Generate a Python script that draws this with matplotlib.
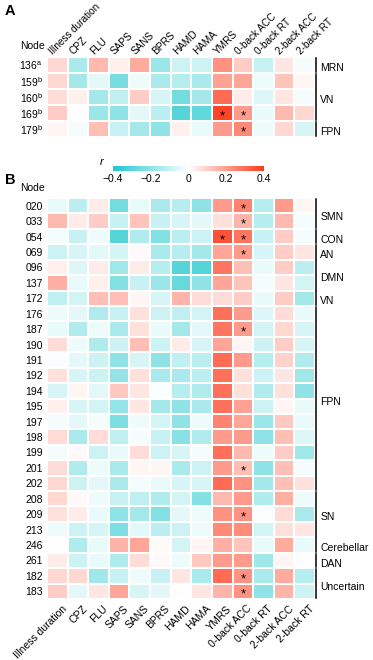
import numpy as np
import matplotlib
matplotlib.use('Agg')
import matplotlib.pyplot as plt
from matplotlib.colors import LinearSegmentedColormap

# data --------------------------------------------------------------

columns = ['Illness duration', 'CPZ', 'FLU', 'SAPS', 'SANS', 'BPRS', 'HAMD',
           'HAMA', 'YMRS', '0-back ACC', '0-back RT', '2-back ACC', '2-back RT']

nodes_a = ['136', '159', '160', '169', '179']
sup_a = ['a', 'b', 'b', 'b', 'b']
r_a = [
    [0.08, -0.15, 0.14, 0.03, 0.17, -0.18, -0.09, -0.09, 0.22, 0.10, -0.10, 0.05, -0.02],
    [0.08, -0.16, -0.05, -0.24, -0.03, -0.15, -0.13, -0.15, 0.19, 0.18, -0.03, 0.12, 0.02],
    [0.07, 0.03, -0.16, -0.11, 0.10, -0.07, -0.25, -0.16, 0.30, 0.04, -0.06, 0.05, -0.02],
    [0.10, 0.00, -0.18, -0.20, -0.05, -0.12, -0.30, -0.28, 0.38, 0.20, -0.04, 0.14, 0.08],
    [0.02, -0.02, 0.13, -0.10, -0.16, -0.20, 0.03, -0.04, 0.20, 0.24, -0.03, 0.08, -0.07],
]
stars_a = [(3, 8), (3, 9), (4, 9)]
groups_a = [('MRN', 0, 0), ('VN', 1, 3), ('FPN', 4, 4)]

nodes_b = ['020', '033', '054', '069', '096', '137', '172', '176', '187', '190',
           '191', '192', '194', '195', '197', '198', '199', '201', '202', '208',
           '209', '213', '246', '261', '182', '183']
r_b = [
    [-0.04, -0.12, 0.04, -0.25, -0.04, -0.15, -0.13, -0.20, 0.20, 0.25, -0.13, 0.20, 0.02],
    [0.14, 0.04, 0.10, -0.10, 0.12, -0.10, -0.07, -0.05, 0.06, 0.15, -0.13, 0.14, -0.02],
    [-0.02, -0.10, -0.03, -0.30, -0.14, -0.22, -0.12, -0.09, 0.35, 0.28, -0.10, 0.10, -0.02],
    [-0.09, -0.07, -0.05, -0.08, 0.01, -0.15, -0.13, -0.16, 0.18, 0.20, -0.07, 0.10, 0.05],
    [0.03, -0.06, 0.04, -0.17, 0.04, -0.13, -0.30, -0.30, 0.28, 0.13, -0.04, 0.10, -0.12],
    [0.16, -0.04, 0.03, -0.22, -0.10, -0.18, -0.27, -0.20, 0.18, 0.12, -0.02, 0.05, -0.08],
    [-0.11, -0.08, 0.13, 0.13, 0.02, -0.07, 0.15, 0.07, 0.07, 0.10, -0.04, 0.10, -0.16],
    [-0.03, -0.05, -0.14, -0.10, 0.06, -0.09, -0.11, -0.08, 0.29, 0.20, -0.06, 0.07, -0.04],
    [-0.04, -0.14, -0.03, -0.15, 0.06, -0.04, -0.16, -0.05, 0.28, 0.20, -0.08, 0.08, -0.07],
    [0.07, -0.03, -0.14, -0.09, 0.13, -0.09, 0.04, -0.07, 0.18, 0.02, -0.09, 0.10, -0.07],
    [-0.01, -0.05, -0.09, -0.20, -0.07, -0.20, -0.11, -0.12, 0.30, 0.20, -0.13, 0.09, -0.14],
    [0.06, -0.07, -0.09, -0.19, 0.06, -0.15, -0.15, -0.12, 0.29, 0.06, -0.09, 0.05, -0.17],
    [-0.07, 0.02, -0.05, 0.11, 0.05, -0.01, -0.13, -0.14, 0.29, 0.06, -0.14, 0.06, -0.20],
    [0.03, -0.07, -0.08, -0.19, 0.05, -0.16, -0.20, -0.15, 0.29, 0.19, -0.09, 0.02, -0.04],
    [-0.02, -0.05, -0.02, -0.23, -0.03, -0.08, -0.20, -0.03, 0.25, 0.18, -0.18, 0.11, -0.04],
    [0.07, -0.15, 0.07, -0.11, -0.02, -0.10, -0.21, -0.14, 0.20, 0.20, -0.20, 0.13, -0.06],
    [-0.02, 0.01, -0.09, -0.04, 0.07, -0.09, -0.07, -0.02, 0.29, 0.14, -0.03, 0.10, -0.17],
    [0.07, -0.14, -0.03, -0.15, 0.02, 0.02, -0.15, -0.09, 0.20, 0.13, -0.20, 0.13, -0.02],
    [0.08, -0.09, -0.05, -0.15, -0.02, -0.04, -0.07, -0.07, 0.30, 0.22, -0.16, 0.13, 0.06],
    [0.08, 0.01, -0.03, -0.10, -0.11, -0.14, -0.08, -0.22, 0.14, 0.20, -0.14, 0.16, -0.03],
    [0.06, 0.04, -0.04, -0.20, -0.16, -0.22, -0.05, -0.03, 0.22, 0.22, -0.01, 0.07, -0.15],
    [-0.03, -0.09, -0.07, -0.23, -0.05, -0.12, -0.09, -0.03, 0.24, 0.23, -0.08, 0.06, 0.05],
    [0.00, -0.14, -0.04, 0.15, 0.18, 0.01, -0.08, 0.02, 0.16, 0.12, -0.04, 0.17, -0.04],
    [0.04, -0.09, -0.04, -0.14, 0.07, 0.01, -0.03, 0.11, 0.20, 0.20, -0.17, 0.02, 0.00],
    [0.08, 0.08, -0.17, -0.10, -0.03, -0.10, 0.05, -0.15, 0.30, 0.22, -0.15, 0.17, -0.13],
    [0.10, -0.05, 0.05, 0.18, -0.07, -0.05, 0.00, 0.05, 0.15, 0.22, -0.20, 0.15, -0.09],
]
stars_b = [(0, 9), (1, 9), (2, 8), (2, 9), (3, 9), (8, 9), (17, 9), (20, 9), (24, 9), (25, 9)]
groups_b = [('SMN', 0, 1), ('CON', 2, 2), ('AN', 3, 3), ('DMN', 4, 5), ('VN', 6, 6),
            ('FPN', 7, 18), ('SN', 19, 21), ('Cerebellar', 22, 22), ('DAN', 23, 23),
            ('Uncertain', 24, 25)]

# plotting --------------------------------------------------------------

plt.rcParams['font.family'] = ['Liberation Sans', 'DejaVu Sans']
W, H = 373, 660
FS = 7.5
cmap = LinearSegmentedColormap.from_list('r', ['#1ec7cc', '#ffffff', '#ff3a1c'])

fig = plt.figure(figsize=(W / 100, H / 100), dpi=100)


def px_axes(x0, y0, x1, y1):
    return fig.add_axes([x0 / W, 1 - y1 / H, (x1 - x0) / W, (y1 - y0) / H])


def draw_heatmap(ax, data, labels, stars, groups, top_labels):
    data = np.array(data)
    n, m = data.shape
    ax.pcolormesh(data, cmap=cmap, vmin=-0.4, vmax=0.4,
                  edgecolors='white', linewidth=1.2)
    ax.set_xlim(0, m)
    ax.set_ylim(n, 0)
    for s in ax.spines.values():
        s.set_visible(False)
    ax.set_xticks([])
    ax.set_yticks(np.arange(n) + 0.5)
    ax.set_yticklabels(labels, fontsize=FS)
    ax.tick_params(axis='y', length=0, pad=3)
    for i, j in stars:
        ax.text(j + 0.5, i + 0.72, '*', ha='center', va='center', fontsize=9.5)
    for j, c in enumerate(columns):
        if top_labels:
            ax.text(j + 0.3, -0.15, c, rotation=45, ha='left', va='baseline',
                    rotation_mode='anchor', fontsize=7.2)
        else:
            ax.text(j + 0.7, n + 0.3, c, rotation=45, ha='right', va='top',
                    rotation_mode='anchor', fontsize=FS)
    for name, a, b in groups:
        ax.plot([m + 0.05, m + 0.05], [a + 0.05, b + 0.95], color='black',
                lw=1.1, clip_on=False)
        ax.text(m + 0.25, (a + b + 1) / 2 + 0.2, name, ha='left', va='center',
                fontsize=FS)
    ax.text(-0.08, -0.35, 'Node', ha='right', va='bottom', fontsize=FS)


ax_a = px_axes(47, 57, 315, 137)
labels_a = [n + '$^{\\mathregular{' + s + '}}$' for n, s in zip(nodes_a, sup_a)]
draw_heatmap(ax_a, r_a, labels_a, stars_a, groups_a, True)

ax_b = px_axes(47, 198, 315, 599)
draw_heatmap(ax_b, r_b, nodes_b, stars_b, groups_b, False)

# colorbar
cax = px_axes(113, 166, 264, 171)
cb = fig.colorbar(plt.cm.ScalarMappable(cmap=cmap, norm=plt.Normalize(-0.4, 0.4)),
                  cax=cax, orientation='horizontal', ticks=[-0.4, -0.2, 0, 0.2, 0.4])
cb.outline.set_visible(False)
cb.ax.tick_params(length=0, labelsize=FS, pad=2)
cb.ax.set_xticklabels(['\u22120.4', '\u22120.2', '0', '0.2', '0.4'])
fig.text(102 / W, 1 - 162 / H, 'r', style='italic', fontsize=FS + 0.5,
         ha='center', va='center')

fig.text(5 / W, 1 - 11 / H, 'A', fontsize=10.5, fontweight='bold', va='center')
fig.text(5 / W, 1 - 180 / H, 'B', fontsize=10.5, fontweight='bold', va='center')

fig.savefig('out.png', dpi=100)
